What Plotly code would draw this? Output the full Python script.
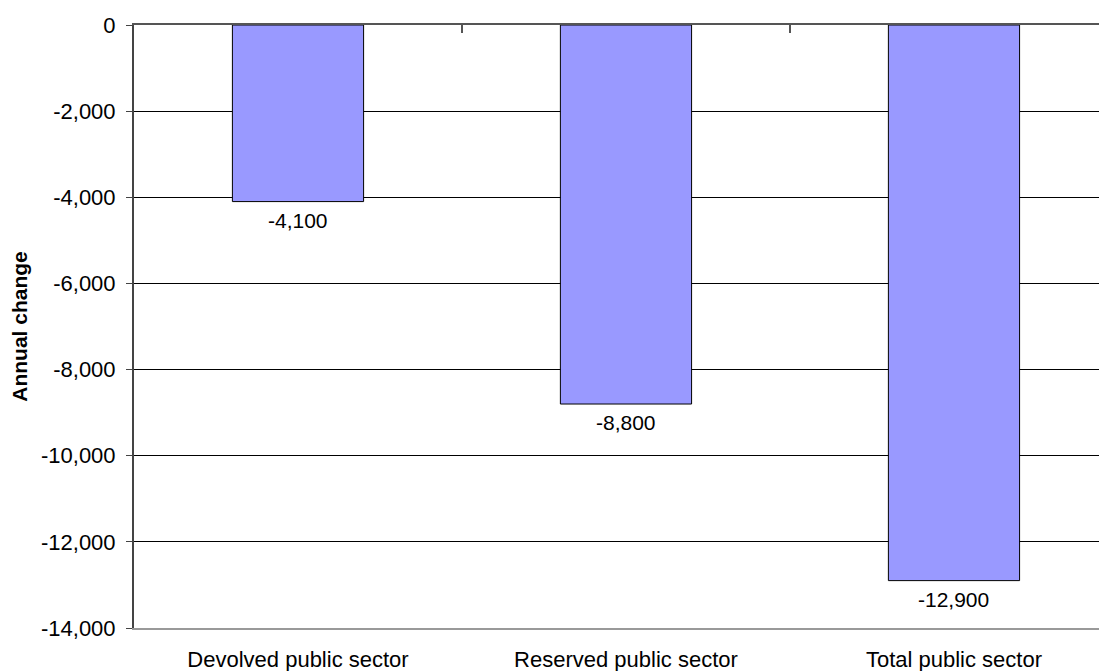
import plotly.graph_objects as go

categories = ["Devolved public sector", "Reserved public sector", "Total public sector"]
values = [-4100, -8800, -12900]
value_labels = ["-4,100", "-8,800", "-12,900"]
y_tickvals = [0, -2000, -4000, -6000, -8000, -10000, -12000, -14000]
y_ticktext = ["0", "-2,000", "-4,000", "-6,000", "-8,000", "-10,000", "-12,000", "-14,000"]

FONT = "Liberation Sans, Arial, sans-serif"
xpos = list(range(len(categories)))

fig = go.Figure()
fig.add_trace(go.Bar(
    x=xpos, y=values, width=0.4,
    marker=dict(color="#9999FF", line=dict(color="#000000", width=1)),
    hoverinfo="y",
))
# invisible trace for the top axis ticks
fig.add_trace(go.Scatter(x=xpos, y=[0] * len(xpos), xaxis="x2", mode="markers",
                         marker=dict(opacity=0), showlegend=False, hoverinfo="skip"))

for xi, v, lab in zip(xpos, values, value_labels):
    fig.add_annotation(x=xi, y=v, text=lab, showarrow=False, yanchor="top", yshift=-5,
                       font=dict(family=FONT, size=21, color="#000000"))

fig.update_layout(
    width=1099, height=663,
    margin=dict(l=126, r=0, t=17, b=43),
    paper_bgcolor="white", plot_bgcolor="white",
    showlegend=False,
    font=dict(family=FONT, size=21, color="#000000"),
    xaxis=dict(
        range=[-0.5, 2.4665], tickvals=xpos, ticktext=categories,
        showgrid=False, zeroline=False, showline=True, linecolor="#999999", linewidth=2,
        ticks="", ticklabelstandoff=11, tickfont=dict(family=FONT, size=22),
        automargin=False,
    ),
    xaxis2=dict(
        range=[-0.5, 2.4665], overlaying="x", side="top", anchor="y",
        tickvals=[0.5, 1.5], ticks="inside", ticklen=8, tickcolor="#555555", tickwidth=2,
        showticklabels=False, showgrid=False, zeroline=False,
        showline=True, linecolor="#555555", linewidth=2, automargin=False,
    ),
    yaxis=dict(
        range=[-14000, 0], tickvals=y_tickvals, ticktext=y_ticktext,
        showgrid=True, gridcolor="#000000", gridwidth=1, zeroline=False,
        showline=True, linecolor="#444444", linewidth=2,
        ticks="outside", ticklen=6, tickcolor="#444444", tickwidth=1,
        ticklabelstandoff=6, tickfont=dict(family=FONT, size=22),
        title=dict(text="<b>Annual change</b>", font=dict(family=FONT, size=21), standoff=8),
        automargin=False,
    ),
)

fig.write_html("out.html")
